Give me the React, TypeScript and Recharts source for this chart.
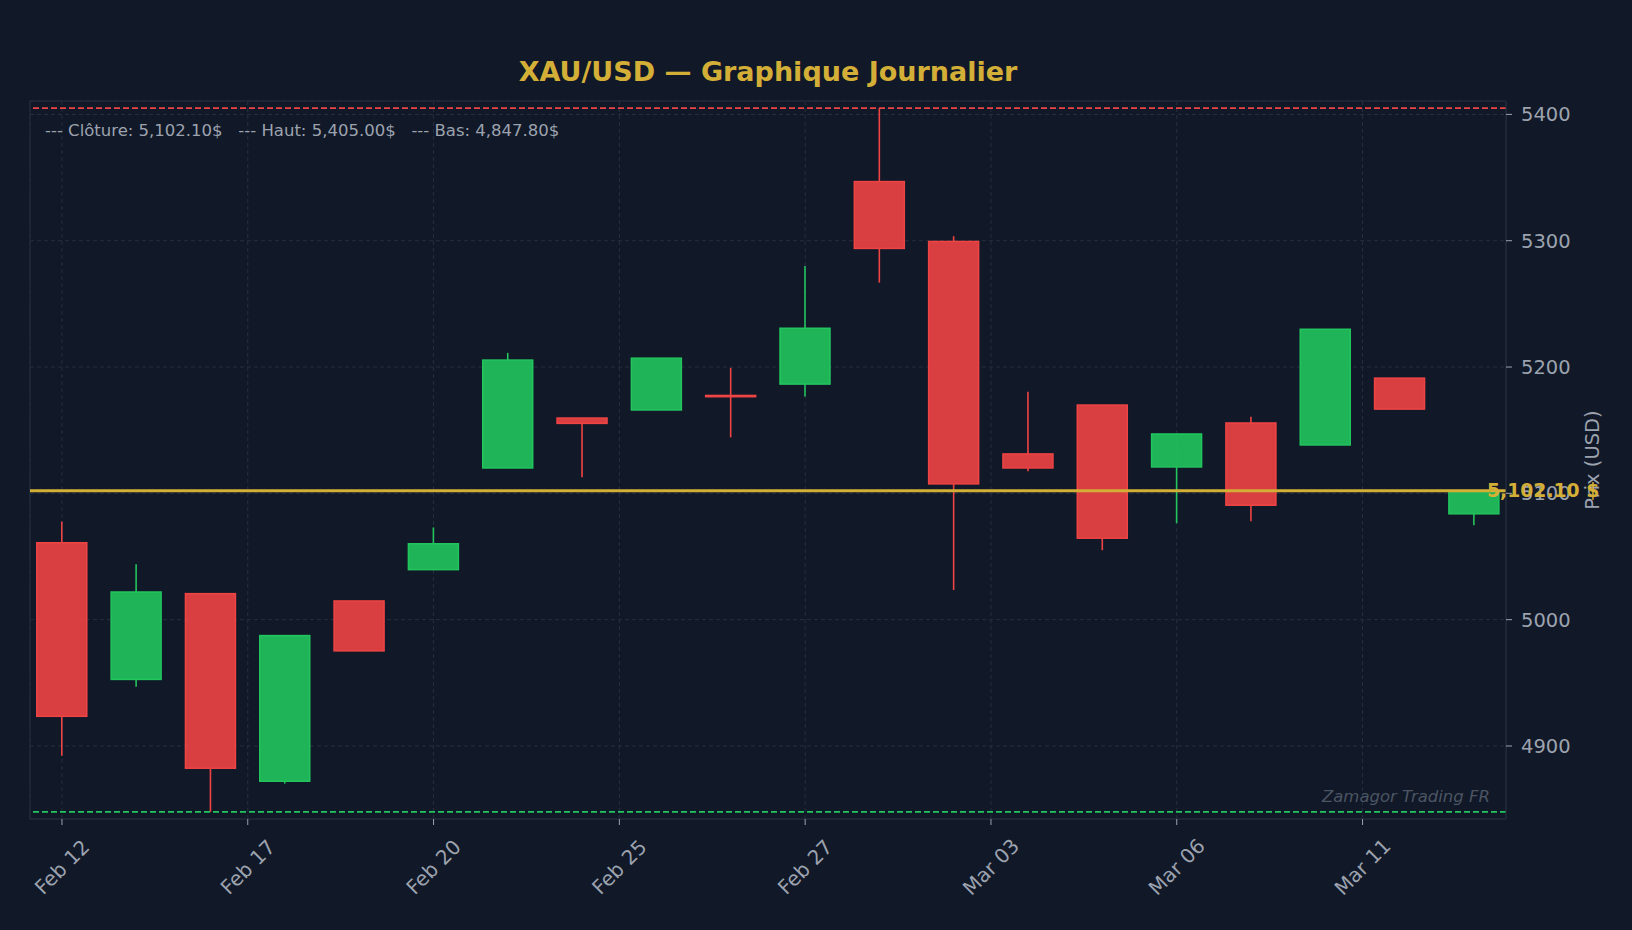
import { ComposedChart, Bar, XAxis, YAxis, CartesianGrid, ReferenceLine, ReferenceArea } from 'recharts';

const tickLabels = ['Feb 12', 'Feb 17', 'Feb 20', 'Feb 25', 'Feb 27', 'Mar 03', 'Mar 06', 'Mar 11'];
const tickPositions = [0, 2.5, 5, 7.5, 10, 12.5, 15, 17.5];

const opens = [5060.9, 4952.7, 5020.6, 4872.1, 5014.8, 5039.6, 5120.1, 5159.6, 5166.0, 5177.5, 5186.5, 5346.8, 5299.4, 5131.2, 5169.9, 5120.9, 5155.7, 5138.3, 5191.2, 5083.8];
const highs = [5077.7, 5043.8, 5020.6, 4987.6, 5014.8, 5073.0, 5211.2, 5159.6, 5207.0, 5199.4, 5279.9, 5405.0, 5303.6, 5180.4, 5169.9, 5147.0, 5160.7, 5229.9, 5191.2, 5102.1];
const lows = [4892.3, 4946.8, 4847.8, 4870.2, 4975.3, 5039.6, 5120.1, 5112.7, 5166.0, 5144.3, 5176.7, 5266.8, 5023.5, 5117.5, 5055.0, 5076.4, 5078.0, 5138.3, 5166.7, 5074.8];
const closes = [4923.5, 5021.9, 4882.4, 4987.4, 4975.3, 5060.1, 5205.5, 5155.4, 5207.0, 5176.5, 5230.7, 5293.9, 5107.5, 5120.1, 5064.5, 5147.0, 5090.6, 5229.9, 5166.7, 5102.1];

const lastClose = 5102.1;
const periodHigh = 5405.0;
const periodLow = 4847.8;

const BG = '#111827';
const GOLD = '#d4af37';
const RED = '#ef4444';
const GREEN = '#22c55e';
const MUTED = '#9ca3af';
const GRID = '#253041';
const FONT = '"DejaVu Sans", sans-serif';

const X_DOMAIN: [number, number] = [-0.43, 19.43];
const Y_DOMAIN: [number, number] = [4842.2, 5410.6];

const chartData = opens.map((o, i) => ({
  i,
  open: o,
  high: highs[i],
  low: lows[i],
  close: closes[i],
  range: [lows[i], highs[i]],
}));

// body + wick drawn from the bar's [low, high] span
const Candle = (props: any) => {
  const { x, y, width, height, payload } = props;
  const { open, close, high, low } = payload;
  const color = close >= open ? GREEN : RED;
  const toY = (v: number) => y + ((high - v) / (high - low)) * height;
  const top = toY(Math.max(open, close));
  const bottom = toY(Math.min(open, close));
  const cx = x + width / 2;
  return (
    <g>
      {top - y > 0.5 && <line x1={cx} x2={cx} y1={y} y2={top} stroke={color} strokeWidth={1.6} />}
      {y + height - bottom > 0.5 && (
        <line x1={cx} x2={cx} y1={bottom} y2={y + height} stroke={color} strokeWidth={1.6} />
      )}
      <rect
        x={x}
        y={top}
        width={width}
        height={Math.max(bottom - top, 1)}
        fill={color}
        fillOpacity={0.9}
        stroke={color}
        strokeWidth={1.5}
      />
    </g>
  );
};

const DateTick = (props: any) => {
  const { x, y, payload } = props;
  const idx = tickPositions.indexOf(payload.value);
  const cy = y + 40;
  return (
    <text
      x={x}
      y={cy}
      textAnchor="middle"
      dominantBaseline="central"
      transform={`rotate(-45, ${x}, ${cy})`}
      fill={MUTED}
      fontSize={20}
      fontFamily={FONT}
    >
      {tickLabels[idx]}
    </text>
  );
};

export default function App() {
  return (
    <div style={{ position: 'fixed', left: 0, top: 0, width: 1632, height: 930, background: BG, fontFamily: FONT }}>
      <ComposedChart
        width={1632}
        height={930}
        data={chartData}
        margin={{ top: 101, right: 46, bottom: 51, left: 30 }}
      >
        <CartesianGrid stroke={GRID} strokeDasharray="4 3" strokeWidth={1} />
        <XAxis
          dataKey="i"
          type="number"
          domain={X_DOMAIN}
          ticks={tickPositions}
          allowDataOverflow
          height={60}
          axisLine={{ stroke: '#1f2937' }}
          tickLine={{ stroke: MUTED }}
          tickSize={6}
          tick={<DateTick />}
          interval={0}
        />
        <YAxis
          orientation="right"
          type="number"
          domain={Y_DOMAIN}
          ticks={[4900, 5000, 5100, 5200, 5300, 5400]}
          allowDataOverflow
          width={80}
          axisLine={{ stroke: '#1f2937' }}
          tickLine={{ stroke: MUTED }}
          tickSize={6}
          tickMargin={9}
          tick={{ fill: MUTED, fontSize: 19.5, fontFamily: FONT }}
        />
        <ReferenceArea
          x1={X_DOMAIN[0]}
          x2={X_DOMAIN[1]}
          y1={Y_DOMAIN[0]}
          y2={Y_DOMAIN[1]}
          fill="none"
          stroke="#1f2937"
          strokeWidth={1.5}
        />
        <ReferenceLine y={periodHigh} stroke={RED} strokeDasharray="6 3" strokeWidth={1.8} />
        <ReferenceLine y={periodLow} stroke={GREEN} strokeDasharray="6 3" strokeWidth={1.8} />
        <Bar dataKey="range" barSize={50} shape={<Candle />} isAnimationActive={false} />
        <ReferenceLine y={lastClose} stroke={GOLD} strokeWidth={3} />
      </ComposedChart>

      <div style={{ position: 'absolute', left: 0, width: 1536, top: 71, transform: 'translateY(-50%)', textAlign: 'center', color: GOLD, fontWeight: 'bold', fontSize: 27 }}>
        XAU/USD — Graphique Journalier
      </div>
      <div style={{ position: 'absolute', left: 45, top: 130, transform: 'translateY(-50%)', color: MUTED, fontSize: 16.5, whiteSpace: 'pre' }}>
        {'--- Clôture: 5,102.10$   --- Haut: 5,405.00$   --- Bas: 4,847.80$'}
      </div>
      <div style={{ position: 'absolute', right: 1632 - 1490, top: 796, transform: 'translateY(-50%)', color: '#4b5563', fontSize: 16.5, fontStyle: 'italic', whiteSpace: 'pre' }}>
        Zamagor Trading FR
      </div>
      <div style={{ position: 'absolute', left: 1592, top: 460, transform: 'translate(-50%, -50%) rotate(-90deg)', color: MUTED, fontSize: 19.5, whiteSpace: 'pre' }}>
        Prix (USD)
      </div>
      <div style={{ position: 'absolute', left: 1487, top: 490, transform: 'translateY(-50%)', color: GOLD, fontWeight: 'bold', fontSize: 18.8, whiteSpace: 'pre' }}>
        5,102.10 $
      </div>
    </div>
  );
}
